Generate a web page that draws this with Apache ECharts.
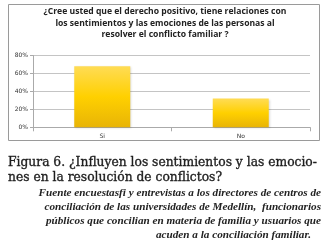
<!DOCTYPE html>
<html><head><meta charset="utf-8">
<script src="https://cdn.jsdelivr.net/npm/echarts@6/dist/echarts.min.js"></script>
<style>html,body{margin:0;padding:0;background:#fff}#c{width:329px;height:251px}</style>
</head><body><div id="c"></div>
<script>
var categories = ['Si', 'No'];
var values = [68, 32];
var yTicks = ['0%', '20%', '40%', '60%', '80%'];
var chartTitle = ['¿Cree usted que el derecho positivo, tiene relaciones con', 'los sentimientos y las emociones de las personas al', 'resolver el conflicto familiar ?'];
var captionLines = ['Figura 6. ¿Influyen los sentimientos y las emocio-', 'nes en la resolución de conflictos?'];
var sourceLines = ['Fuente encuestasfi y entrevistas a los directores de centros de', 'conciliación de las universidades de Medellín,  funcionarios', 'públicos que concilian en materia de familia y usuarios que', 'acuden a la conciliación familiar.'];

var chart = echarts.init(document.getElementById('c'), null, {renderer: 'canvas'});
var graphics = [
  {type: 'rect', shape: {x: 8.5, y: 4.5, width: 311, height: 136}, style: {fill: 'none', stroke: '#9a9a9a', lineWidth: 1}, z: 0}
];
chartTitle.forEach(function (t, i) {
  graphics.push({type: 'text', x: 165, y: 12 + i * 11.5, style: {text: t, font: 'bold 8.6px "Open Sans", sans-serif', fill: '#222', textAlign: 'center', textVerticalAlign: 'middle'}});
});
captionLines.forEach(function (t, i) {
  graphics.push({type: 'text', x: 8, y: 163 + i * 14.5, style: {text: t, font: '12.3px "DejaVu Serif", serif', fill: '#1e1e1e', stroke: '#1e1e1e', lineWidth: 0.35, textAlign: 'left', textVerticalAlign: 'middle'}});
});
var srcRight = [321, 321, 321, 311];
sourceLines.forEach(function (t, i) {
  graphics.push({type: 'text', x: srcRight[i], y: 193 + i * 14, style: {text: t, font: 'italic bold 11.2px "Liberation Serif", serif', fill: '#222', textAlign: 'right', textVerticalAlign: 'middle'}});
});

chart.setOption({
  animation: false,
  backgroundColor: '#fff',
  grid: {left: 33, right: 19, top: 55.5, bottom: 123.7, containLabel: false},
  xAxis: {
    type: 'category', data: categories,
    axisLine: {lineStyle: {color: '#aaa'}},
    axisTick: {show: true, length: 4, lineStyle: {color: '#aaa'}},
    axisLabel: {fontSize: 6, color: '#333', margin: 6, fontFamily: 'DejaVu Sans'}
  },
  yAxis: {
    type: 'value', min: 0, max: 80, interval: 20,
    axisLine: {show: true, lineStyle: {color: '#aaa'}},
    axisTick: {show: true, length: 3, lineStyle: {color: '#aaa'}},
    axisLabel: {fontSize: 6, color: '#333', margin: 5, fontFamily: 'DejaVu Sans', formatter: function (v) { return yTicks[v / 20]; }},
    splitLine: {lineStyle: {color: '#c4c4c4'}}
  },
  series: [{
    type: 'bar', data: values, barWidth: 56,
    itemStyle: {
      color: new echarts.graphic.LinearGradient(0, 0, 0, 1, [
        {offset: 0, color: '#FFDC55'},
        {offset: 0.5, color: '#FFD000'},
        {offset: 1, color: '#E8B406'}
      ]),
      shadowColor: 'rgba(0,0,0,0.15)', shadowBlur: 2, shadowOffsetX: 1, shadowOffsetY: 1
    }
  }],
  graphic: graphics
});
</script></body></html>
